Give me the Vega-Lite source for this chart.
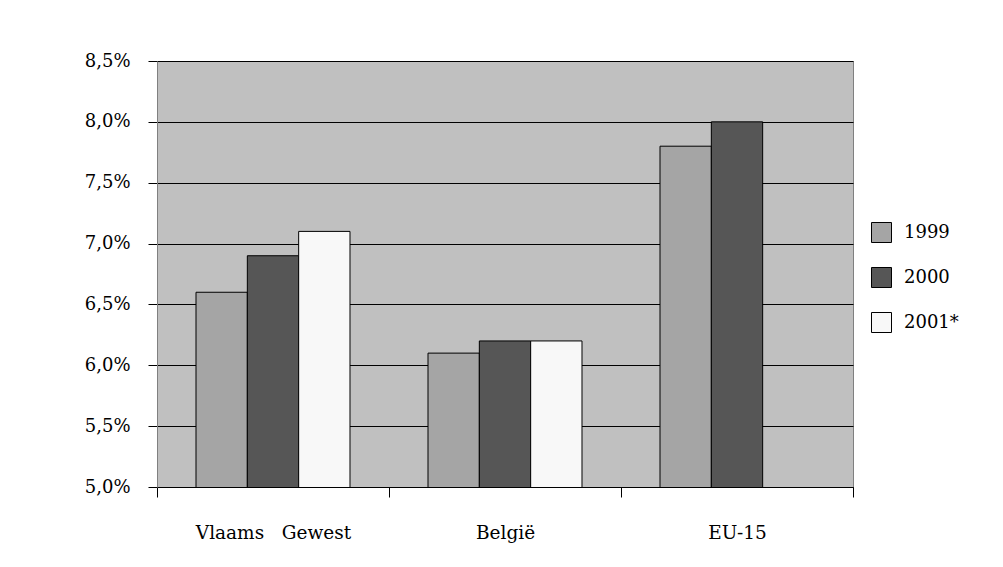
{
  "$schema": "https://vega.github.io/schema/vega-lite/v6.json",
  "width": 696,
  "height": 426,
  "autosize": "none",
  "padding": {"left": 157, "top": 61, "right": 150, "bottom": 80},
  "background": "white",
  "config": {
    "font": "DejaVu Serif",
    "view": {"fill": "#c0c0c0", "stroke": "#808080", "strokeWidth": 1}
  },
  "data": {
    "values": [
      {"regio": "Vlaams\u00a0\u00a0 Gewest", "jaar": "1999", "waarde": 6.6},
      {"regio": "Vlaams\u00a0\u00a0 Gewest", "jaar": "2000", "waarde": 6.9},
      {"regio": "Vlaams\u00a0\u00a0 Gewest", "jaar": "2001*", "waarde": 7.1},
      {"regio": "België", "jaar": "1999", "waarde": 6.1},
      {"regio": "België", "jaar": "2000", "waarde": 6.2},
      {"regio": "België", "jaar": "2001*", "waarde": 6.2},
      {"regio": "EU-15", "jaar": "1999", "waarde": 7.8},
      {"regio": "EU-15", "jaar": "2000", "waarde": 8.0}
    ]
  },
  "mark": {"type": "bar", "stroke": "#000000", "strokeWidth": 1, "clip": true},
  "encoding": {
    "x": {
      "field": "regio",
      "type": "nominal",
      "sort": ["Vlaams\u00a0\u00a0 Gewest", "België", "EU-15"],
      "scale": {"paddingInner": 0, "paddingOuter": 0},
      "axis": {
        "title": null,
        "labelAngle": 0,
        "labelFontSize": 18.5,
        "labelColor": "#000000",
        "labelPadding": 26,
        "tickBand": "extent",
        "tickSize": 10,
        "tickColor": "#000000",
        "domainColor": "#000000",
        "grid": false
      }
    },
    "xOffset": {
      "field": "jaar",
      "type": "nominal",
      "sort": ["1999", "2000", "2001*"],
      "scale": {"paddingInner": 0, "paddingOuter": 0.76}
    },
    "y": {
      "field": "waarde",
      "type": "quantitative",
      "scale": {"domain": [5.0, 8.5], "zero": false, "nice": false},
      "axis": {
        "title": null,
        "values": [5.0, 5.5, 6.0, 6.5, 7.0, 7.5, 8.0, 8.5],
        "labelExpr": "replace(format(datum.value, '.1f'), '.', ',') + '%'",
        "labelFontSize": 18,
        "labelColor": "#000000",
        "labelPadding": 18,
        "tickSize": 9,
        "tickColor": "#000000",
        "domainColor": "#808080",
        "grid": true,
        "gridColor": "#000000",
        "gridWidth": 1,
        "gridOpacity": 1
      }
    },
    "color": {
      "field": "jaar",
      "type": "nominal",
      "sort": ["1999", "2000", "2001*"],
      "scale": {"domain": ["1999", "2000", "2001*"], "range": ["#a5a5a5", "#565656", "#f8f8f8"]},
      "legend": {
        "title": null,
        "orient": "none",
        "legendX": 714,
        "legendY": 161,
        "symbolType": "square",
        "symbolSize": 400,
        "symbolStrokeColor": "#000000",
        "symbolStrokeWidth": 1,
        "symbolOpacity": 1,
        "labelFontSize": 18,
        "labelColor": "#000000",
        "labelOffset": 12,
        "rowPadding": 20
      }
    }
  }
}
